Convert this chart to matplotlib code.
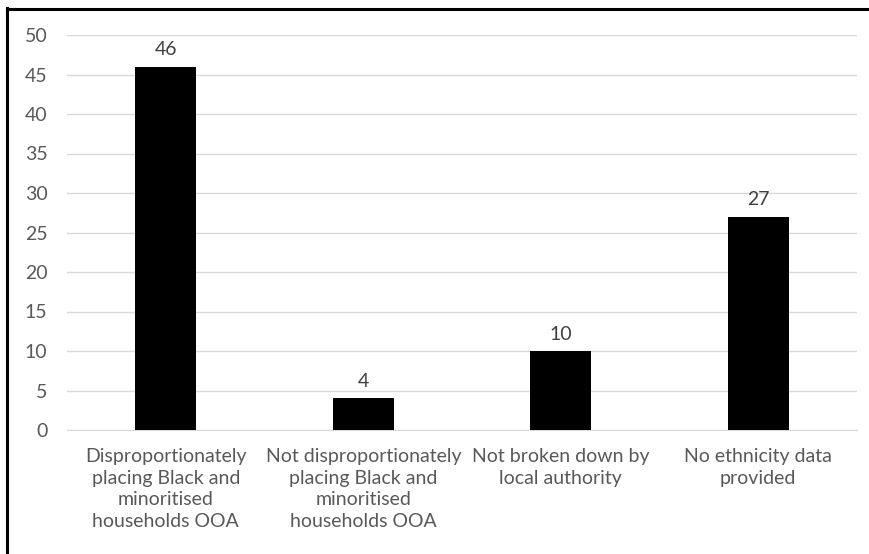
import matplotlib

matplotlib.use("Agg")
import matplotlib.pyplot as plt
from matplotlib.lines import Line2D

categories = [
    "Disproportionately\nplacing Black and\nminoritised\nhouseholds OOA",
    "Not disproportionately\nplacing Black and\nminoritised\nhouseholds OOA",
    "Not broken down by\nlocal authority",
    "No ethnicity data\nprovided",
]
counts = [46, 4, 10, 27]
yticks = [0, 5, 10, 15, 20, 25, 30, 35, 40, 45, 50]

TEXT = "#595959"
GRID = "#d9d9d9"
FS = 14
plt.rcParams["font.family"] = ["Lato", "DejaVu Sans"]

fig = plt.figure(figsize=(8.69, 5.54), dpi=100)
ax = fig.add_axes([67 / 869, 1 - 430 / 554, 790 / 869, 395 / 554])

x = range(len(categories))
ax.bar(x, counts, width=0.31, color="black", zorder=3)
for xi, v in zip(x, counts):
    ax.annotate(str(v), (xi, v), xytext=(0, 6), textcoords="offset points",
                ha="center", va="bottom", fontsize=FS, color="#404040")

ax.set_xlim(-0.5, len(categories) - 0.5)
ax.set_ylim(0, 50)
ax.set_yticks(yticks)
ax.set_xticks(list(x))
ax.set_xticklabels(categories, fontsize=FS, color=TEXT, linespacing=1.33)
ax.tick_params(axis="y", labelsize=FS, labelcolor=TEXT, length=0, pad=14)
ax.tick_params(axis="x", length=0, pad=13)
ax.grid(axis="y", color=GRID, linewidth=1, zorder=0)
for side in ("top", "right", "left"):
    ax.spines[side].set_visible(False)
ax.spines["bottom"].set_color(GRID)

# black frame on the left and top edges of the picture
fig.add_artist(Line2D([6.5 / 869, 6.5 / 869], [0, 1 - 8 / 554],
                      transform=fig.transFigure, color="black", linewidth=2.2))
fig.add_artist(Line2D([6.5 / 869, 1], [1 - 9 / 554, 1 - 9 / 554],
                      transform=fig.transFigure, color="black", linewidth=2.2))

fig.savefig("out.png", dpi=100)
plt.close(fig)
